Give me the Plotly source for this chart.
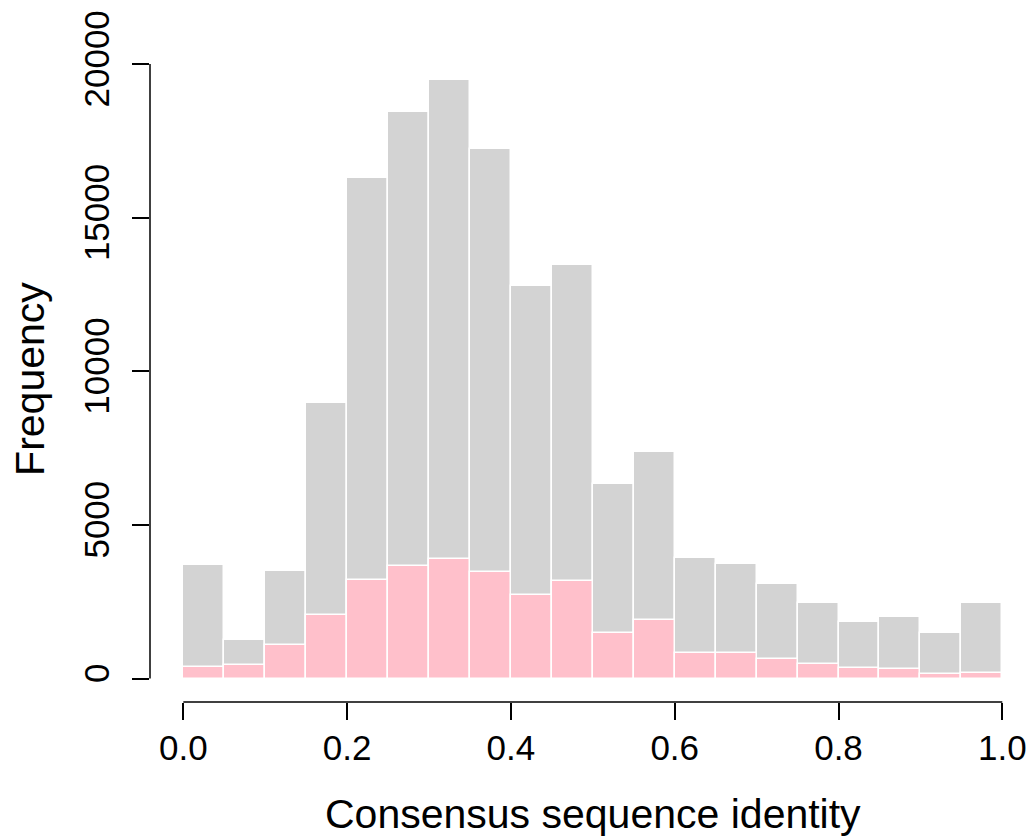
import plotly.graph_objects as go

bin_starts = [0.00, 0.05, 0.10, 0.15, 0.20, 0.25, 0.30, 0.35, 0.40, 0.45,
              0.50, 0.55, 0.60, 0.65, 0.70, 0.75, 0.80, 0.85, 0.90, 0.95]
bin_width = 0.05
all_counts = [3695, 1253, 3499, 8970, 16293, 18431, 19473, 17227, 12777, 13460,
              6331, 7373, 3932, 3727, 3066, 2448, 1839, 2012, 1471, 2467]
subset_counts = [365, 430, 1100, 2067, 3197, 3652, 3900, 3457, 2718, 3174,
                 1471, 1914, 840, 830, 635, 482, 342, 319, 137, 189]

x_ticks = [0.0, 0.2, 0.4, 0.6, 0.8, 1.0]
x_ticklabels = ["0.0", "0.2", "0.4", "0.6", "0.8", "1.0"]
y_ticks = [0, 5000, 10000, 15000, 20000]
y_ticklabels = ["0", "5000", "10000", "15000", "20000"]

centers = [s + bin_width / 2 for s in bin_starts]
FONT = "Liberation Sans, Arial, Helvetica, sans-serif"

fig = go.Figure()
fig.add_trace(go.Bar(x=centers, y=all_counts, width=bin_width,
                     marker=dict(color="#D3D3D3", line=dict(color="white", width=1.5)),
                     showlegend=False, hoverinfo="skip"))
fig.add_trace(go.Bar(x=centers, y=subset_counts, width=bin_width,
                     marker=dict(color="#FFC0CB", line=dict(color="white", width=1.5)),
                     showlegend=False, hoverinfo="skip"))

fig.update_layout(
    width=1033, height=837,
    margin=dict(l=150, r=0, t=56, b=135, autoexpand=False),
    paper_bgcolor="white", plot_bgcolor="white",
    barmode="overlay", bargap=0,
    font=dict(family=FONT, color="black", size=35),
    xaxis=dict(range=[-0.0407, 1.0375], tickvals=x_ticks, ticktext=x_ticklabels,
               ticks="outside", ticklen=17, tickwidth=1.5, tickcolor="black",
               showgrid=False, zeroline=False, showline=False,
               tickfont=dict(size=35), ticklabelstandoff=-2),
    yaxis=dict(range=[-765, 20263], tickvals=y_ticks, ticktext=y_ticklabels,
               ticks="outside", ticklen=17, tickwidth=1.5, tickcolor="black",
               showgrid=False, zeroline=False, showline=False, tickangle=-90,
               tickfont=dict(size=35), ticklabelstandoff=9),
    shapes=[
        dict(type="line", xref="paper", yref="y", x0=0, x1=0, y0=0, y1=20000,
             line=dict(color="black", width=1.5)),
        dict(type="line", xref="x", yref="paper", x0=0, x1=1, y0=0, y1=0,
             line=dict(color="black", width=1.5)),
    ],
    annotations=[
        dict(text="Consensus sequence identity", xref="x", yref="paper",
             x=0.5, y=-0.135, yanchor="top", showarrow=False,
             font=dict(size=41, family=FONT)),
        dict(text="Frequency", xref="paper", yref="paper", x=-0.136, y=0.5,
             textangle=-90, showarrow=False, xanchor="center",
             font=dict(size=41, family=FONT)),
    ],
)

fig.write_html("out.html")
